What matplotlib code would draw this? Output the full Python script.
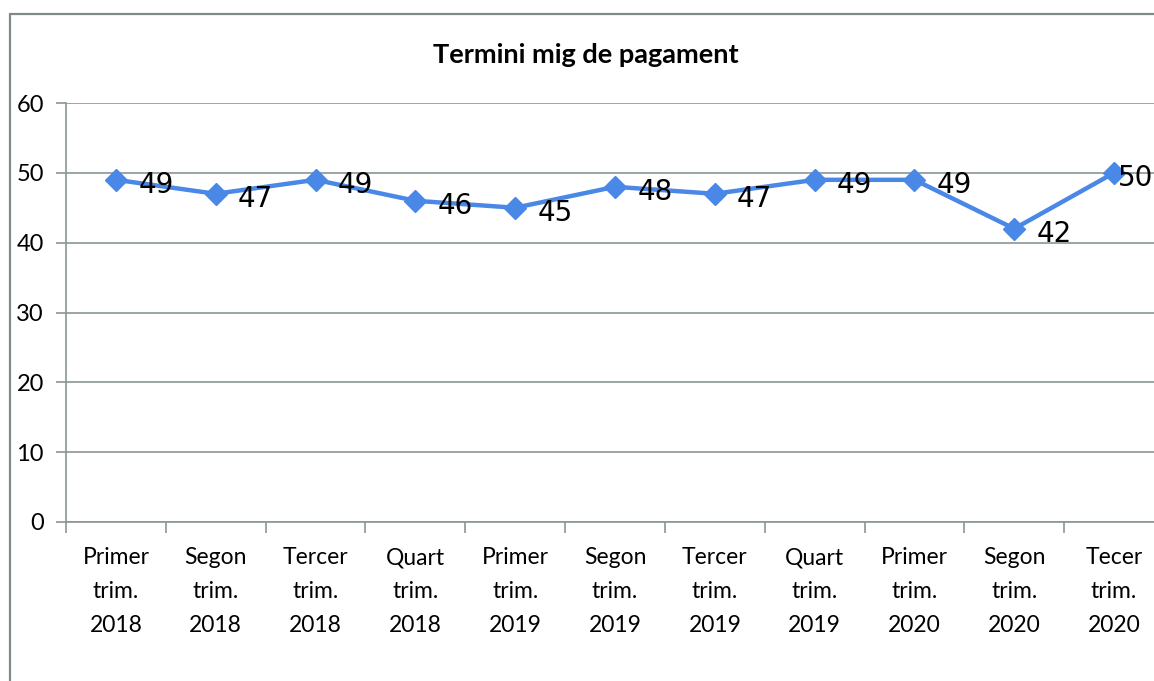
import matplotlib
matplotlib.use("Agg")
import matplotlib.pyplot as plt
from matplotlib.patches import Rectangle

categories = ["Primer\ntrim.\n2018", "Segon\ntrim.\n2018", "Tercer\ntrim.\n2018", "Quart\ntrim.\n2018",
              "Primer\ntrim.\n2019", "Segon\ntrim.\n2019", "Tercer\ntrim.\n2019", "Quart\ntrim.\n2019",
              "Primer\ntrim.\n2020", "Segon\ntrim.\n2020", "Tecer\ntrim.\n2020"]
values = [49, 47, 49, 46, 45, 48, 47, 49, 49, 42, 50]
yticks = [0, 10, 20, 30, 40, 50, 60]
title = "Termini mig de pagament"

W, H = 1154, 681
fig = plt.figure(figsize=(W / 100, H / 100), dpi=100)
gray = "#8a9696"

# chart border (cropped at right and bottom)
fig.patches.append(Rectangle((10 / W, -0.05), 1.2, 1 - 14 / H + 0.05, transform=fig.transFigure,
                             fill=False, edgecolor="#7f8b8b", linewidth=1.6))

ax = fig.add_axes([66 / W, 1 - 522 / H, (1164 - 66) / W, (522 - 103) / H])
x = list(range(len(values)))
ax.plot(x, values, color="#4a88e8", linewidth=3.2, marker="D", markersize=11,
        markeredgecolor="#4a88e8", zorder=3, clip_on=False)
for xi, v in zip(x, values):
    dx = 3 if xi == len(values) - 1 else 16
    ax.annotate(str(v), (xi, v), xytext=(dx, -4), textcoords="offset points",
                ha="left", va="center", fontsize=20, family="DejaVu Sans", color="black",
                zorder=4, annotation_clip=False)

ax.set_xlim(-0.5, len(values) - 0.5)
ax.set_ylim(0, 60)
ax.set_yticks(yticks)
ax.set_yticklabels([str(t) for t in yticks], fontsize=17, family="Lato")
ax.yaxis.grid(True, color=gray, linewidth=1.2)
ax.set_axisbelow(True)

ax.set_xticks([i + 0.5 for i in range(-1, len(values))], minor=False)
ax.set_xticklabels([])
ax.set_xticks(x, minor=True)
ax.set_xticklabels(categories, minor=True, fontsize=16.5, family="Lato", linespacing=1.75)
ax.tick_params(axis="x", which="minor", length=0, pad=18)
ax.tick_params(axis="x", which="major", length=8, color=gray, width=1.2)
ax.tick_params(axis="y", length=7, color=gray, width=1.2, pad=9)

for s in ["top", "right"]:
    ax.spines[s].set_visible(False)
ax.spines["left"].set_color(gray)
ax.spines["bottom"].set_color(gray)
ax.spines["left"].set_linewidth(1.2)
ax.spines["bottom"].set_linewidth(1.2)

fig.text(586 / W, 1 - 55 / H, title, ha="center", va="center", fontsize=19.5,
         fontweight="bold", family="Lato")

fig.savefig("out.png", dpi=100)
